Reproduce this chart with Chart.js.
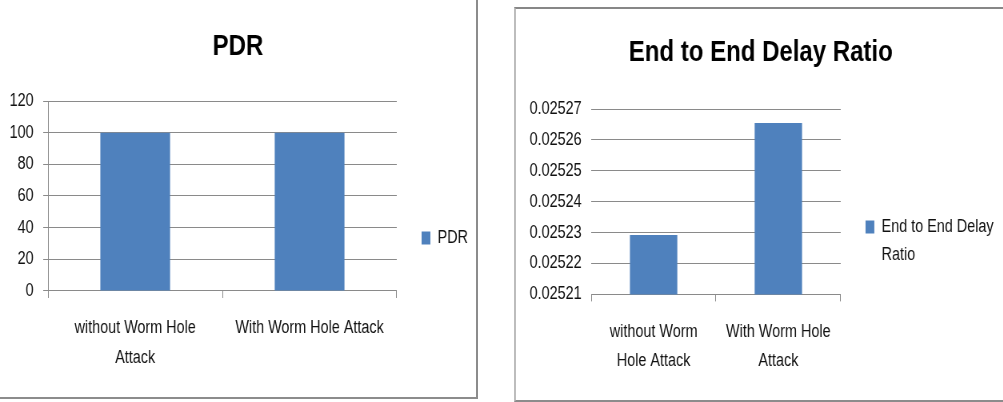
<!DOCTYPE html>
<html>
<head>
<meta charset="utf-8">
<script src="https://cdn.jsdelivr.net/npm/chart.js@4.4.0/dist/chart.umd.min.js"></script>
<style>
  html, body { margin: 0; padding: 0; background: #fff; overflow: hidden; width: 1003px; height: 402px; position: relative; }
  .frame { position: absolute; }
  #frameL { left: 0; top: 0; width: 476px; height: 397px; border-right: 2px solid #8c8c8c; border-bottom: 2px solid #8c8c8c; }
  #frameR { left: 514px; top: 7px; width: 600px; height: 391px; border-left: 2px solid #bdbdbd; border-top: 2px solid #878787; border-bottom: 2px solid #8c8c8c; }
  /* the source picture is squeezed sideways, so the charts are drawn wider and narrowed */
  canvas { position: absolute; transform: scaleX(0.8); transform-origin: 0 0; }
  #pdr { left: 0; top: 0; }
  #delay { left: 516px; top: 9px; }
</style>
</head>
<body>
<div class="frame" id="frameL"></div>
<div class="frame" id="frameR"></div>
<canvas id="pdr" width="595" height="397"></canvas>
<canvas id="delay" width="609" height="391"></canvas>
<script>
// data
const pdrCategories = [['without Worm Hole', 'Attack'], 'With Worm Hole Attack'];
const pdrValues = [100, 100];
const pdrAxis = { min: 0, max: 120, step: 20 };

const delayCategories = [['without Worm', 'Hole Attack'], ['With Worm Hole', 'Attack']];
const delayValues = [0.0252292, 0.0252655];
const delayAxis = { min: 0.02521, max: 0.02527, step: 0.00001 };
const delayLegend = ['End to End Delay', 'Ratio'];

const BLUE = '#4f81bd';
const GRID = '#8a8a8a';

Chart.defaults.font.family = '"Liberation Sans", Arial, sans-serif';
Chart.defaults.font.size = 18;
Chart.defaults.color = '#111';

function barChart(id, cfg) {
  return new Chart(document.getElementById(id), {
    type: 'bar',
    data: {
      labels: cfg.labels,
      datasets: [{ label: cfg.name, data: cfg.values, backgroundColor: BLUE, borderWidth: 0,
        barPercentage: cfg.barPct, categoryPercentage: 1 }]
    },
    options: {
      responsive: false, animation: false, devicePixelRatio: 1,
      events: [],
      layout: { padding: cfg.pad },
      plugins: {
        tooltip: { enabled: false },
        title: { display: true, text: cfg.title, color: '#000',
          font: { size: 30, weight: 'bold', lineHeight: 1.2 }, padding: cfg.titlePad },
        legend: {
          position: 'right', align: 'start', maxWidth: 240,
          // blank legend title only pushes the key down to where it sits in the picture
          title: { display: true, text: ' ', font: { size: 10, lineHeight: 1 }, padding: { top: cfg.legendTop, bottom: 0 } },
          labels: {
            boxWidth: 11, boxHeight: 13, padding: 31, font: { size: 18, lineHeight: 1.55 },
            generateLabels(chart) {
              const items = Chart.defaults.plugins.legend.labels.generateLabels(chart);
              if (cfg.legendText) items[0].text = cfg.legendText;
              return items;
            }
          }
        }
      },
      scales: {
        x: {
          grid: { display: true, drawOnChartArea: false, drawTicks: true, tickLength: 7, color: GRID, offset: true },
          border: { display: true, color: GRID },
          ticks: { maxRotation: 0, autoSkip: false, padding: cfg.xPad, font: { size: 18, lineHeight: cfg.xLine } }
        },
        y: {
          min: cfg.axis.min, max: cfg.axis.max,
          grid: { color: GRID, drawTicks: cfg.yTicks, tickLength: 6 },
          border: { display: cfg.yBorder, color: GRID },
          ticks: { stepSize: cfg.axis.step, padding: 12, font: { size: 18 },
            callback: cfg.fmt || (v => v) }
        }
      }
    }
  });
}

barChart('pdr', {
  labels: pdrCategories, values: pdrValues, name: 'PDR', title: 'PDR', axis: pdrAxis,
  barPct: 0.4, pad: { left: 0, right: 0, top: 0, bottom: 9 },
  titlePad: { top: 29, bottom: 36 }, legendTop: 188,
  xPad: 15, xLine: 1.667, yTicks: true, yBorder: true
});

barChart('delay', {
  labels: delayCategories, values: delayValues, name: 'End to End Delay Ratio',
  title: 'End to End Delay Ratio', axis: delayAxis, legendText: delayLegend,
  barPct: 0.38, pad: { left: 5, right: 2, top: 0, bottom: 9 },
  titlePad: { top: 26, bottom: 38 }, legendTop: 168,
  xPad: 16, xLine: 1.6, yTicks: false, yBorder: false,
  fmt: v => v.toFixed(5)
});
</script>
</body>
</html>
